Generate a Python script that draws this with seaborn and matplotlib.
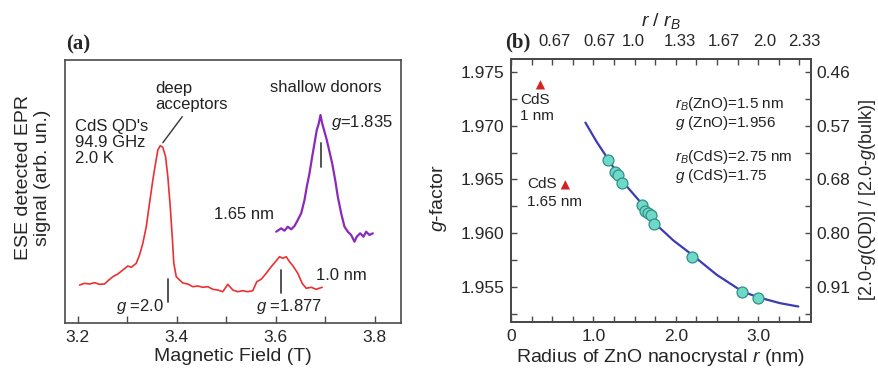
import matplotlib
matplotlib.use("Agg")
import matplotlib.pyplot as plt
from matplotlib.ticker import MultipleLocator, FuncFormatter
import seaborn as sns

# ---------------- (a) ESE-detected EPR spectra of CdS QDs ----------------
field_1p0 = [3.2034, 3.2135, 3.2236, 3.2337, 3.2438, 3.2539, 3.2626, 3.2707, 3.2808,
             3.2909, 3.3010, 3.3079, 3.3180, 3.3246, 3.3313, 3.3382, 3.3448, 3.3515,
             3.3570, 3.3616, 3.3665, 3.3717, 3.3772, 3.3818, 3.3867, 3.3907, 3.3939,
             3.3988, 3.4055, 3.4121, 3.4222, 3.4323, 3.4424, 3.4525, 3.4626, 3.4727,
             3.4828, 3.4929, 3.5030, 3.5131, 3.5232, 3.5333, 3.5434, 3.5535, 3.5616,
             3.5705, 3.5806, 3.5907, 3.5994, 3.6075, 3.6141, 3.6210, 3.6277, 3.6358,
             3.6444, 3.6533, 3.6614, 3.6715, 3.6816, 3.6937]
signal_1p0 = [0.380, 0.397, 0.390, 0.403, 0.387, 0.390, 0.430, 0.463, 0.490,
              0.530, 0.570, 0.557, 0.597, 0.680, 0.797, 0.963, 1.197, 1.430,
              1.597, 1.730, 1.773, 1.757, 1.663, 1.463, 1.163, 0.863, 0.597,
              0.463, 0.430, 0.400, 0.390, 0.363, 0.370, 0.357, 0.363, 0.337,
              0.330, 0.313, 0.387, 0.330, 0.313, 0.323, 0.313, 0.323, 0.413,
              0.437, 0.497, 0.563, 0.613, 0.663, 0.647, 0.663, 0.613, 0.563,
              0.497, 0.397, 0.347, 0.357, 0.337, 0.357]

field_1p65 = [3.6008, 3.6109, 3.6176, 3.6242, 3.6311, 3.6378, 3.6444, 3.6513, 3.6580,
              3.6626, 3.6681, 3.6735, 3.6782, 3.6828, 3.6869, 3.6903, 3.6937, 3.6984,
              3.7030, 3.7085, 3.7139, 3.7200, 3.7253, 3.7321, 3.7388, 3.7455, 3.7523,
              3.7590, 3.7636, 3.7705, 3.7772, 3.7826, 3.7893, 3.7960]
signal_1p65 = [0.913, 0.947, 0.923, 0.963, 0.937, 0.970, 1.030, 1.097, 1.230,
               1.363, 1.497, 1.663, 1.797, 1.930, 1.997, 2.080, 1.997, 1.913,
               1.830, 1.713, 1.597, 1.430, 1.263, 1.097, 0.963, 0.913, 0.880,
               0.813, 0.863, 0.897, 0.863, 0.913, 0.880, 0.897]

# resonance positions marked below the lines (T)
g_mark_field = [3.382, 3.611, 3.692]
g_mark_low = [0.21, 0.30, 1.56]
g_mark_high = [0.44, 0.53, 1.80]

# ---------------- (b) g-factor versus ZnO nanocrystal radius ----------------
radius_zno = [1.178, 1.258, 1.299, 1.347, 1.590, 1.630, 1.660, 1.700, 1.730, 2.200, 2.800, 2.996]
g_zno = [1.9668, 1.9657, 1.9654, 1.9647, 1.9626, 1.9621, 1.9619, 1.9617, 1.9609, 1.9578, 1.9545, 1.9540]

radius_cds = [0.358, 0.660]
g_cds = [1.9738, 1.9645]

fit_radius = [0.903, 1.040, 1.178, 1.348, 1.590, 1.727, 1.973, 2.200, 2.499, 2.806, 3.000, 3.267, 3.488]
fit_g = [1.97029, 1.96850, 1.96690, 1.96487, 1.96273, 1.96106, 1.95932, 1.95799, 1.95613,
         1.95460, 1.95405, 1.95350, 1.95319]

g_ticks = [1.955, 1.960, 1.965, 1.970, 1.975]
ratio_labels = ["0.91", "0.80", "0.68", "0.57", "0.46"]

top_positions = [0.53, 1.07, 1.49, 2.05, 2.59, 3.08, 3.56]
top_labels = ["0.67", "0.67", "1.0", "1.33", "1.67", "2.0", "2.33"]

# ---------------- styling ----------------
sns.set_style("ticks", {"xtick.direction": "in", "ytick.direction": "in"})
plt.rcParams["font.family"] = ["Liberation Sans", "DejaVu Sans"]
plt.rcParams["mathtext.fontset"] = "custom"
plt.rcParams["mathtext.rm"] = "Liberation Sans"
plt.rcParams["mathtext.it"] = "Liberation Sans:italic"
plt.rcParams["axes.edgecolor"] = "#4a4a4a"
plt.rcParams["axes.linewidth"] = 1.2

RED = "#ec3030"
PURPLE = "#8a2ab8"
BLUE = "#3b3bb3"
CYAN = "#6fd9c9"
TEAL = "#2f8f86"
TRI = "#d42222"

W, H = 879, 372
fig = plt.figure(figsize=(W / 100, H / 100), dpi=100)

# ======================= panel (a) =======================
axa = fig.add_axes([65 / W, 49 / H, 336 / W, 263 / H])
sns.lineplot(x=field_1p0, y=signal_1p0, ax=axa, color=RED, lw=1.2,
             sort=False, estimator=None)
sns.lineplot(x=field_1p65, y=signal_1p65, ax=axa, color=PURPLE, lw=1.6,
             sort=False, estimator=None)
for b, lo, hi in zip(g_mark_field, g_mark_low, g_mark_high):
    axa.plot([b, b], [lo, hi], color="#444444", lw=1.3)

axa.set_xlim(3.174, 3.853)
axa.set_ylim(0, 2.63)
axa.set_yticks([])
axa.xaxis.set_major_locator(MultipleLocator(0.2))
axa.xaxis.set_minor_locator(MultipleLocator(0.1))
axa.tick_params(axis="x", which="both", direction="in", length=5, width=1,
                color="#4a4a4a", labelsize=12.5, pad=5)
axa.set_xlabel("Magnetic Field (T)", fontsize=14, labelpad=2)
axa.set_ylabel("")

tk = dict(color="#222222")
axa.text(3.357, 2.265, "deep\nacceptors", fontsize=12, ha="left", va="center",
         linespacing=1.05, **tk)
axa.text(3.195, 1.805, "CdS QD's\n94.9 GHz\n2.0 K", fontsize=12, ha="left",
         va="center", linespacing=1.05, **tk)
axa.text(3.702, 2.36, "shallow donors", fontsize=12, ha="center", va="center", **tk)
axa.text(3.712, 2.0, r"$g$=1.835", fontsize=12, ha="left", va="center", **tk)
axa.text(3.597, 1.08, "1.65 nm", fontsize=12, ha="right", va="center", **tk)
axa.text(3.682, 0.48, "1.0 nm", fontsize=12, ha="left", va="center", **tk)
axa.text(3.375, 0.16, r"$g$ =2.0", fontsize=12, ha="right", va="center", **tk)
axa.text(3.627, 0.16, r"$g$ =1.877", fontsize=12, ha="center", va="center", **tk)
axa.plot([3.3717, 3.4109], [1.803, 2.063], color="#333333", lw=1.0)

fig.text(78 / W, 1 - 44 / H, "(a)", fontsize=15, fontweight="bold",
         family="Liberation Serif", ha="center", va="center")
fig.text(33 / W, 1 - 178 / H, "ESE detected EPR\nsignal (arb. un.)", fontsize=14,
         rotation=90, ha="center", va="center", multialignment="center",
         linespacing=1.15)

# ======================= panel (b) =======================
axb = fig.add_axes([511 / W, 50 / H, 300 / W, 263 / H])
sns.lineplot(x=fit_radius, y=fit_g, ax=axb, color=BLUE, lw=1.6,
             sort=False, estimator=None, zorder=2)
sns.scatterplot(x=radius_zno, y=g_zno, ax=axb, s=62, color=CYAN,
                edgecolor=TEAL, linewidth=0.9, zorder=3)
sns.scatterplot(x=radius_cds, y=g_cds, ax=axb, marker="^", s=45, color=TRI,
                edgecolor="none", zorder=3)

axb.set_xlim(0, 3.642)
axb.set_ylim(1.95175, 1.9762)
axb.set_xticks([0, 1, 2, 3])
axb.xaxis.set_major_formatter(FuncFormatter(lambda v, p: "0" if v == 0 else f"{v:.1f}"))
axb.xaxis.set_minor_locator(MultipleLocator(0.25))
axb.set_yticks(g_ticks)
axb.yaxis.set_major_formatter(FuncFormatter(lambda v, p: f"{v:.3f}"))
axb.yaxis.set_minor_locator(MultipleLocator(0.0025))
axb.tick_params(axis="both", which="both", direction="in", length=4, width=1,
                color="#4a4a4a", labelsize=12.5, pad=5)
axb.set_xlabel(r"Radius of ZnO nanocrystal $r$ (nm)", fontsize=14, labelpad=2)
axb.set_ylabel(r"$g$-factor", fontsize=14)
axb.yaxis.set_label_coords(-0.205, 0.47)

# right axis: normalised g-shift
axr = axb.twinx()
axr.set_ylim(axb.get_ylim())
axr.set_yticks(g_ticks)
axr.set_yticklabels(ratio_labels)
axr.yaxis.set_minor_locator(MultipleLocator(0.0025))
axr.tick_params(axis="y", which="both", direction="in", length=4, width=1,
                color="#4a4a4a", labelsize=12.5, pad=4)
axr.set_ylabel(r"[2.0-$g$(QD)] / [2.0-$g$(bulk)]", fontsize=13)
axr.yaxis.set_label_coords(1.155, 0.465)

# top axis: r / r_B
axt = axb.twiny()
axt.set_xlim(axb.get_xlim())
axt.xaxis.set_minor_locator(MultipleLocator(0.25))
axt.set_xticks(top_positions)
axt.set_xticklabels(top_labels)
axt.tick_params(axis="x", which="major", length=0, labelsize=12, pad=7)
axt.tick_params(axis="x", which="minor", direction="in", length=4, width=1,
                color="#4a4a4a")
axt.set_xlabel(r"$r$ / $r_B$", fontsize=14, labelpad=6)

bk = dict(color="#222222", fontsize=11)
axb.text(1.99, 1.97203, r"$r_B$(ZnO)=1.5 nm", ha="left", va="center", **bk)
axb.text(1.99, 1.97023, r"$g$ (ZnO)=1.956", ha="left", va="center", **bk)
axb.text(1.99, 1.96713, r"$r_B$(CdS)=2.75 nm", ha="left", va="center", **bk)
axb.text(1.99, 1.96536, r"$g$ (CdS)=1.75", ha="left", va="center", **bk)
axb.text(0.115, 1.9724, "CdS", ha="left", va="center", **bk)
axb.text(0.115, 1.9709, "1 nm", ha="left", va="center", **bk)
axb.text(0.20, 1.9646, "CdS", ha="left", va="center", **bk)
axb.text(0.20, 1.96295, "1.65 nm", ha="left", va="center", **bk)

fig.text(518 / W, 1 - 42 / H, "(b)", fontsize=15, fontweight="bold",
         family="Liberation Serif", ha="center", va="center")

fig.savefig("out.png", dpi=100)
